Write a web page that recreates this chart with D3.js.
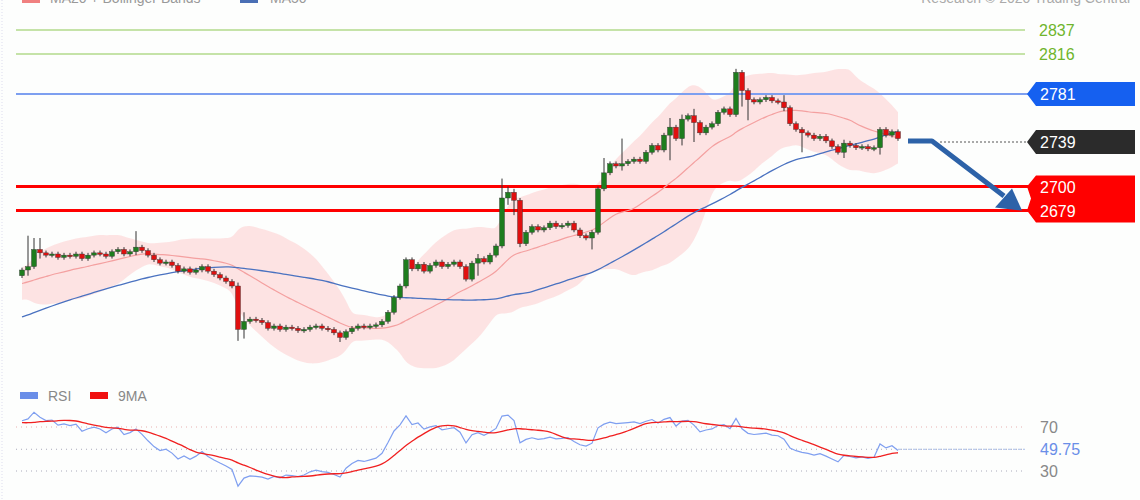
<!DOCTYPE html>
<html><head><meta charset="utf-8">
<script src="https://cdn.jsdelivr.net/npm/d3@7"></script>
<style>body{margin:0;background:#fff}svg{display:block;font-family:"Liberation Sans",Arial,sans-serif}</style>
</head><body><svg id="c" width="1140" height="500"></svg>
<script>
// Closes before the visible window (for moving averages)
const priorCloses=[2540,2542,2545,2543,2548,2550,2552,2551,2555,2558,2560,2559,2562,2565,2567,2566,2570,2572,2575,2574,2577,2579,2580,2582,2584,2583,2586,2588,2589,2590,2605,2608,2610,2612,2609,2613,2615,2612,2616,2618,2614,2617,2619,2615,2618,2620,2616,2618,2622];
const closes=[2627,2630,2645,2642,2640,2641,2638,2640,2639,2641,
2637,2640,2642,2641,2639,2643,2645,2641,2643,2647,
2644,2640,2636,2633,2634,2631,2626,2628,2625,2627,
2630,2626,2623,2620,2617,2613,2575,2582,2584,2583,
2581,2576,2578,2575,2577,2576,2574,2575,2577,2578,
2576,2575,2572,2568,2573,2576,2578,2577,2578,2579,
2582,2590,2603,2613,2636,2628,2632,2626,2631,2634,
2630,2632,2634,2630,2619,2633,2637,2634,2640,2648,
2690,2695,2688,2650,2660,2665,2662,2664,2668,2665,
2666,2668,2662,2657,2655,2660,2698,2712,2720,2718,
2720,2722,2724,2722,2730,2736,2732,2745,2752,2742,
2759,2762,2756,2747,2752,2755,2765,2768,2763,2800,
2784,2776,2774,2776,2778,2775,2774,2769,2755,2750,
2747,2745,2742,2744,2740,2735,2730,2738,2736,2734,
2735,2733,2734,2750,2745,2748,2742];
// long wicks: [index, high, low]
const spikes=[[1,2657,2622],[2,2655,2638],[3,2655,2637],[19,2661,2640],[36,2616,2565],[37,2590,2567],[53,2574,2564],[76,2641,2622],[80,2707,2650],[81,2700,2684],[82,2698,2675],[83,2690,2647],[95,2662,2645],[97,2725,2706],[100,2742,2714],[108,2760,2723],[110,2763,2736],[112,2768,2739],[119,2803,2764],[120,2802,2770],[121,2786,2758],[127,2780,2766],[130,2752,2730],[137,2741,2725],[143,2752,2728]];
const levels=[{v:2837,type:"g"},{v:2816,type:"g"},{v:2781,type:"b"},{v:2700,type:"r"},{v:2679,type:"r"}];
const lastPrice=2739, rsiLast="49.75";
const rsiTicks=[70,30];

const svg=d3.select("#c");
const x=i=>22+i*6;
const y=d3.scaleLinear().domain([2837,2565.75]).range([30,340]);
const ry=d3.scaleLinear().domain([70,30]).range([427,471]);

// data
const all=priorCloses.concat(closes), P=priorCloses.length;
const candles=closes.map((c,i)=>{const o=i?closes[i-1]:priorCloses[P-1];let h=Math.max(o,c)+2,l=Math.min(o,c)-2;
 const s=spikes.find(s=>s[0]===i);if(s){h=Math.max(h,s[1]);l=Math.min(l,s[2]);}return{o,c,h,l,i};});
const ma=(n,k)=>{const w=all.slice(P+k-n+1,P+k+1);return d3.mean(w);};
const band=closes.map((c,k)=>{const w=all.slice(P+k-19,P+k+1),m=d3.mean(w),sd=d3.deviation(w);return{k,m,u:m+2*sd+4,l:m-2*sd-4,m50:ma(50,k)};});

svg.append("rect").attr("width",1140).attr("height",500).attr("fill","#fdfefd");
svg.append("line").attr("x1",2).attr("x2",2).attr("y1",0).attr("y2",500).attr("stroke","#dde").attr("stroke-dasharray","1,2");
// header
svg.append("rect").attr("x",22).attr("y",-4).attr("width",18).attr("height",7).attr("fill","#f08080");
svg.append("text").attr("x",50).attr("y",3).text("MA20 + Bollinger Bands").attr("fill","#999").attr("font-size",14);
svg.append("rect").attr("x",240).attr("y",-4).attr("width",18).attr("height",7).attr("fill","#4a6fb5");
svg.append("text").attr("x",270).attr("y",3).text("MA50").attr("fill","#999").attr("font-size",14);
svg.append("text").attr("x",1130).attr("y",3).attr("text-anchor","end").text("Research © 2020 Trading Central").attr("fill","#aaa").attr("font-size",14);

// bollinger area
svg.append("path").datum(band).attr("fill","#fde0e0").attr("opacity",0.9)
 .attr("d",d3.area().curve(d3.curveBasis).x(d=>x(d.k)).y0(d=>y(d.l)).y1(d=>y(d.u)));
// levels
levels.forEach(L=>{
 const col=L.type==="g"?"#c5e3a8":L.type==="b"?"#7d9ff0":"#ff0000";
 svg.append("line").attr("x1",16).attr("x2",L.type==="g"?1025:1030).attr("y1",y(L.v)).attr("y2",y(L.v)).attr("stroke",col).attr("stroke-width",L.type==="r"?3:L.type==="b"?2:2);
 if(L.type==="g")svg.append("text").attr("x",1039).attr("y",y(L.v)+6).text(L.v).attr("fill","#6fb52c").attr("font-size",16);
});
svg.append("path").datum(band).attr("fill","none").attr("stroke","#f4a0a0").attr("stroke-width",1.2).attr("d",d3.line().curve(d3.curveBasis).x(d=>x(d.k)).y(d=>y(d.m)));
svg.append("path").datum(band).attr("fill","none").attr("stroke","#4a72c0").attr("stroke-width",1.3).attr("d",d3.line().curve(d3.curveBasis).x(d=>x(d.k)).y(d=>y(d.m50)));
// candles
const g=svg.append("g");
candles.forEach(d=>{const up=d.c>=d.o;
 g.append("line").attr("x1",x(d.i)).attr("x2",x(d.i)).attr("y1",y(d.h)).attr("y2",y(d.l)).attr("stroke","#333").attr("stroke-width",1);
 const t=y(Math.max(d.o,d.c)),b=y(Math.min(d.o,d.c));
 g.append("rect").attr("x",x(d.i)-2.5).attr("y",t).attr("width",5).attr("height",Math.max(1.5,b-t)).attr("fill",up?"#1e7d1e":"#e01010").attr("stroke","#333").attr("stroke-width",0.4);
});
// tags
function tag(y0,h,col,labels){const x0=1027,x1=1135;
 svg.append("path").attr("d",`M${x0},${(y0+y0+h)/2}L${x0+9},${y0}H${x1}V${y0+h}H${x0+9}Z`).attr("fill",col);
 labels.forEach(l=>svg.append("text").attr("x",1040).attr("y",l[1]).text(l[0]).attr("fill","#fff").attr("font-size",16));}
tag(y(2781)-12,24,"#1560f0",[["2781",y(2781)+6]]);
tag(y(lastPrice)-12,24,"#2b2b2b",[["2739",y(lastPrice)+6]]);
svg.append("path").attr("d",`M1027,${y(2700)}L1036,${y(2700)-11}H1135V${y(2679)+12}H1036L1027,${y(2679)}L1031,${(y(2700)+y(2679))/2}Z`).attr("fill","#ff0000");
svg.append("text").attr("x",1040).attr("y",y(2700)+6).text("2700").attr("fill","#fff").attr("font-size",16);
svg.append("text").attr("x",1040).attr("y",y(2679)+6).text("2679").attr("fill","#fff").attr("font-size",16);
svg.append("line").attr("x1",940).attr("x2",1027).attr("y1",y(lastPrice)).attr("y2",y(lastPrice)).attr("stroke","#555").attr("stroke-dasharray","2,2");
// arrow
svg.append("path").attr("d",`M908,${y(lastPrice)-1}H932L1004,${y(2683)-10}`).attr("fill","none").attr("stroke","#2d62a8").attr("stroke-width",5).attr("stroke-linejoin","round");
svg.append("path").attr("d",`M1022,${y(2679)}L995,${y(2679)-3}L1012,${y(2679)-22}Z`).attr("fill","#2d62a8");

// RSI
const ch=all.map((c,i)=>i?c-all[i-1]:0);let ag=0,al=0;const rsiAll=[];
for(let i=1;i<all.length;i++){const gg=Math.max(ch[i],0),ll=Math.max(-ch[i],0);
 if(i<=14){ag+=gg/14;al+=ll/14;}else{ag=(ag*13+gg)/14;al=(al*13+ll)/14;}
 rsiAll.push(al===0?100:100-100/(1+ag/al));}
const rsi=rsiAll.slice(rsiAll.length-closes.length);
const rsiFull=rsiAll;const off=rsiAll.length-closes.length;
const rma=rsi.map((v,k)=>d3.mean(rsiFull.slice(off+k-8,off+k+1)));
[70,49.75,30].forEach(v=>svg.append("line").attr("x1",16).attr("x2",1025).attr("y1",ry(v)).attr("y2",ry(v)).attr("stroke",v===70?"#e8b0b0":"#aab").attr("stroke-dasharray","1,4"));
svg.append("line").attr("x1",x(closes.length-1)).attr("x2",1025).attr("y1",ry(49.75)).attr("y2",ry(49.75)).attr("stroke","#a8bde8").attr("stroke-dasharray","3,2");
svg.append("path").datum(rsi).attr("fill","none").attr("stroke","#7f9ff0").attr("stroke-width",1.2).attr("d",d3.line().x((d,i)=>x(i)).y(d=>ry(d)));
svg.append("path").datum(rma).attr("fill","none").attr("stroke","#f02020").attr("stroke-width",1.3).attr("d",d3.line().curve(d3.curveBasis).x((d,i)=>x(i)).y(d=>ry(d)));
rsiTicks.forEach(v=>svg.append("text").attr("x",1040).attr("y",ry(v)+6).text(v).attr("fill","#888").attr("font-size",16));
svg.append("text").attr("x",1040).attr("y",ry(49.75)+6).text(rsiLast).attr("fill","#6a8ee8").attr("font-size",16);
svg.append("rect").attr("x",20).attr("y",392).attr("width",18).attr("height",7).attr("fill","#6a8ee8");
svg.append("text").attr("x",48).attr("y",401).text("RSI").attr("fill","#888").attr("font-size",14);
svg.append("rect").attr("x",90).attr("y",392).attr("width",18).attr("height",7).attr("fill","#f01010");
svg.append("text").attr("x",118).attr("y",401).text("9MA").attr("fill","#888").attr("font-size",14);
</script></body></html>
